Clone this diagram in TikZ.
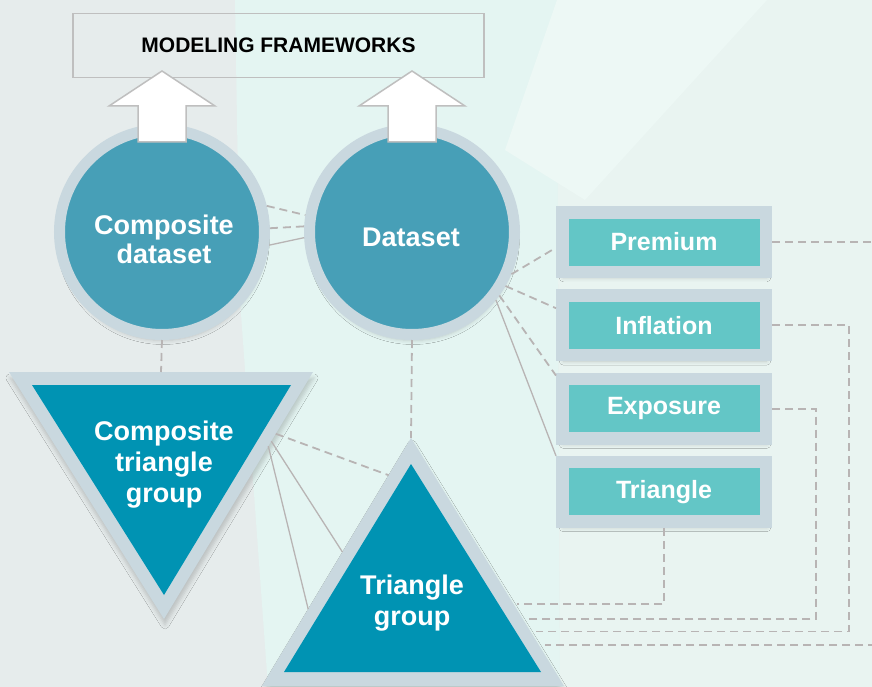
\documentclass[tikz,border=0pt]{standalone}
\usepackage{fontspec}
\setmainfont{Liberation Sans}
\usetikzlibrary{calc,shadows.blur}

\definecolor{bgbase}{HTML}{E6ECEC}
\definecolor{bgmint}{HTML}{E4F5F2}
\definecolor{bgright}{HTML}{E9F4F1}
\definecolor{bglight}{HTML}{EDF8F5}
\definecolor{ringgray}{HTML}{C9D8DF}
\definecolor{diskblue}{HTML}{479FB7}
\definecolor{triblue}{HTML}{0093B3}
\definecolor{boxteal}{HTML}{63C6C6}
\definecolor{linegray}{HTML}{B8B4B4}
\definecolor{edgegray}{HTML}{BFBFBF}

\begin{document}
\begin{tikzpicture}[x=1pt,y=-1pt]

\tikzset{
        soft/.style={blur shadow={shadow xshift=1pt,shadow yshift=-6pt,shadow blur radius=4pt,shadow opacity=18}},
        disk/.style={circle,soft,fill=diskblue,draw=ringgray,line width=11pt,minimum size=205pt,inner sep=0pt},
        tag/.style={rectangle,soft,fill=boxteal,draw=ringgray,line width=12.5pt,minimum width=203.5pt,minimum height=59.5pt,
                text=white,font=\fontsize{25}{28}\selectfont\bfseries},
        caption/.style={text=white,align=center,font=\fontsize{27}{30}\selectfont\bfseries},
        frame/.style={draw=edgegray,line width=1.5pt,minimum width=411pt,minimum height=64pt,font=\fontsize{21}{24}\selectfont\bfseries},
        bigarrow/.style={fill=white,draw=edgegray,line width=1.5pt,line join=miter},
        link/.style={draw=linegray,line width=1.3pt},
        dlink/.style={link,line width=1.8pt,dash pattern=on 8pt off 5pt}
}

\useasboundingbox (0,0) rectangle (872,687);
\clip (0,0) rectangle (872,687);

\fill[bgbase] (0,0) rectangle (872,687);
\fill[bgmint] (235,0) -- (557,0) -- (560,687) -- (268,687) -- (240,300) -- cycle;
\fill[bgright] (557,0) -- (872,0) -- (872,687) -- (560,687) -- cycle;
\fill[bglight] (557,0) -- (767,0) -- (585,200) -- (505,150) -- cycle;

\node[frame] (FW) at (278.5,45.5) {MODELING FRAMEWORKS};

\node[disk] (CD) at (162,232) {};
\node[caption] (CD label) at (164,239.5) {Composite\\[-1pt]dataset};
\node[disk] (DS) at (412,232) {};
\node[caption] (DS label) at (411,237.5) {Dataset};

\coordinate (CTa) at (9,372);
\coordinate (CTb) at (313,372);
\coordinate (CTc) at (164,619);
\fill[ringgray,soft] (CTa) -- (CTb) -- (CTc) -- cycle;
\fill[triblue] (32,385) -- (291,385) -- (164,595) -- cycle;
\node[caption,font=\fontsize{27}{31}\selectfont\bfseries] (CT) at (164,465) {Composite\\triangle\\group};

\coordinate (TGa) at (411,438);
\coordinate (TGb) at (262,686);
\coordinate (TGc) at (564,686);
\fill[ringgray,soft] (TGa) -- (TGb) -- (TGc) -- cycle;
\fill[triblue] (411,464) -- (284,672) -- (541,672) -- cycle;
\node[caption,font=\fontsize{27}{31}\selectfont\bfseries] (TG) at (412,603) {Triangle\\group};

\foreach \i/\l in {0/Premium,1/Inflation,2/Exposure,3/Triangle} {
     \node[tag] (B\i) at (664,{242+83.3*\i}) {\l};
}

\foreach \n in {CD,DS} {
     \draw[bigarrow] (\n.north) ++(-24,18) -- ++(0,-36) -- ++(-29,0) -- ++(53,-35) -- ++(53,35) -- ++(-29,0) -- ++(0,36) -- cycle;
}

\draw[dlink] (CD.14.7) -- (DS.171);
\draw[dlink] (CD.2.6) -- (DS.177.4);
\draw[link] (CD.-7.4) -- (DS.183);
\draw[dlink] (CD.south) -- ($(CTa)!0.5!(CTb)$);
\draw[dlink] (DS.south) -- (TGa);

\draw[dlink] (DS.-23.3) -- (B0.183);
\draw[dlink] (DS.-30.6) -- (B1.171);
\draw[dlink] (DS.-36.4) -- (B2.163);
\draw[link] (DS.-39.3) -- (B3.north west);

\draw[dlink] ($(CTb)!0.25!(CTc)$) -- ($(TGa)!0.15!(TGb)$);
\draw[link] ($(CTb)!0.28!(CTc)$) -- ($(TGa)!0.46!(TGb)$);
\draw[link] ($(CTb)!0.30!(CTc)$) -- ($(TGa)!0.69!(TGb)$);

\draw[dlink] (B0.east) -- ++(130,0) |- ($(TGa)!0.835!(TGc)+(6,0)$);
\draw[dlink] (B1.east) -- ++(77,0) |- ($(TGa)!0.78!(TGc)+(6,0)$);
\draw[dlink] (B2.east) -- ++(44,0) |- ($(TGa)!0.73!(TGc)+(5,0)$);
\draw[dlink] (B3.south) |- ($(TGa)!0.67!(TGc)+(3,0)$);

\end{tikzpicture}
\end{document}
